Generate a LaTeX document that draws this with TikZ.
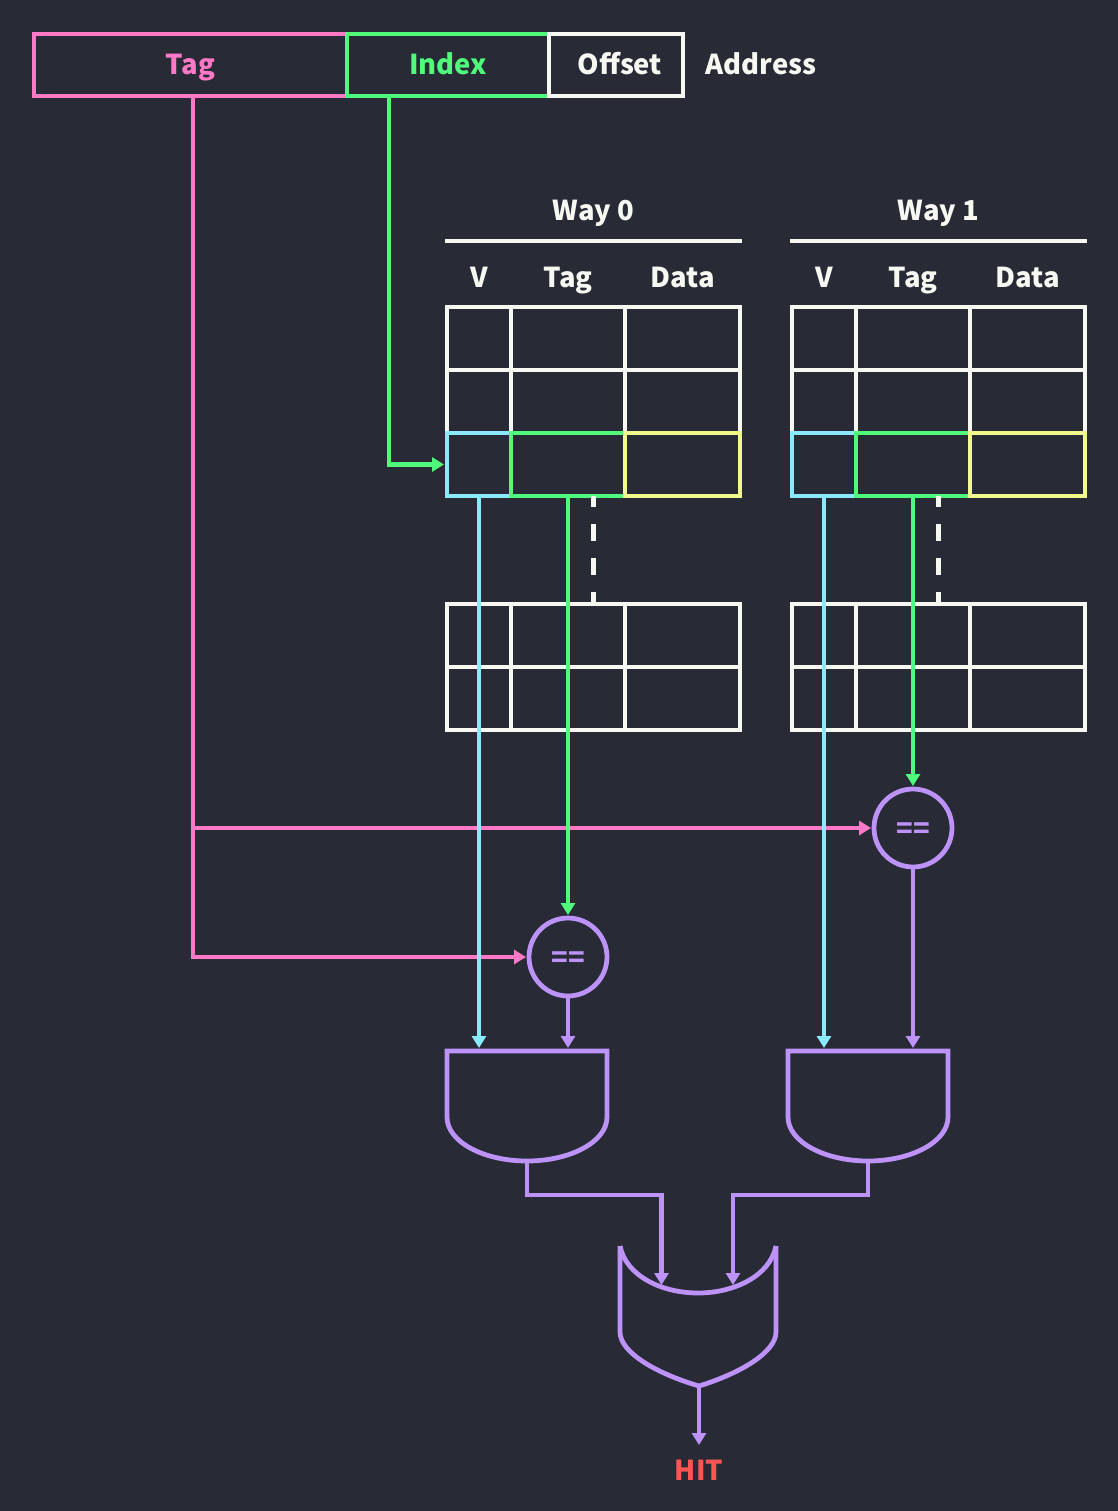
\documentclass[tikz,border=0pt]{standalone}
\usepackage{xcolor}
\usepackage{fontspec}
\setmainfont{Noto Sans CJK SC}
\usetikzlibrary{arrows.meta}

\definecolor{bgdark}{HTML}{282A36}
\definecolor{chalk}{HTML}{F8F8F2}
\definecolor{hotpink}{HTML}{FF79C6}
\definecolor{mint}{HTML}{50FA7B}
\definecolor{skyblue}{HTML}{8BE9FD}
\definecolor{lemon}{HTML}{F1FA8C}
\definecolor{lilac}{HTML}{BD93F9}
\definecolor{alarm}{HTML}{FF5555}

\tikzset{
  lbl/.style={inner sep=0pt, outer sep=0pt, text height=0.4cm, text depth=0pt, font=\fontsize{15.6}{20}\selectfont\bfseries},
  fieldbox/.style={lbl, draw, line width=0.095cm, minimum height=1.24cm},
  cellbox/.style={draw, line width=0.095cm, inner sep=0pt, outer sep=0pt, minimum height=1.26cm},
  cmpbox/.style={lbl, circle, draw=lilac, line width=0.095cm, minimum size=1.56cm, text=lilac},
  gate/.style={draw=lilac, line width=0.095cm},
  wire/.style={line width=0.09cm, -{Triangle[length=0.24cm,width=0.28cm]}, shorten >=0.06cm}
}

\begin{document}
\begin{tikzpicture}[x=0.02cm,y=-0.02cm]
  \useasboundingbox (0,0) rectangle (1118,1511);
  \fill[bgdark] (0,0) rectangle (1118,1511);

  % Address fields
  \node[fieldbox, draw=hotpink, text=hotpink, minimum width=6.26cm] (tagfield) at (190.5,65) {Tag};
  \node[fieldbox, draw=mint, text=mint, minimum width=4.04cm] (indexfield) at (448,65) {Index};
  \node[fieldbox, draw=chalk, text=chalk, minimum width=2.68cm] (offsetfield) at (616,65) {\hspace{0.16cm}Offset};
  \node[lbl, text=chalk] (addrlabel) at (761,65) {Address};

  % The two ways
  \foreach \way/\ox in {0/0,1/345} {
    \node[lbl, text=chalk] (way\way) at (593.5+\ox,210.5) {Way \way};
    \coordinate (ruleL\way) at (445+\ox,241);
    \coordinate (ruleR\way) at (742+\ox,241);
    \draw[chalk, line width=0.09cm] (ruleL\way) -- (ruleR\way);
    \node[lbl, text=chalk] (headV\way) at (479+\ox,277.5) {V};
    \node[lbl, text=chalk] (headTag\way) at (568+\ox,277.5) {Tag};
    \node[lbl, text=chalk] (headData\way) at (682.5+\ox,277.5) {Data};
    \foreach \col/\cx/\cw in {v/479/64,tag/568/114,data/682.5/115} {
      \foreach \row/\cy in {0/338.5,1/401.5,3/635.5,4/698.5}
        \node[cellbox, draw=chalk, minimum width=\cw*0.02cm] (\col-\row-\way) at (\cx+\ox,\cy) {};
    }
    % Selected set
    \foreach \col/\cx/\cw/\cc in {v/479/64/skyblue,tag/568/114/mint,data/682.5/115/lemon}
      \node[cellbox, draw=\cc, minimum width=\cw*0.02cm] (\col-2-\way) at (\cx+\ox,464.5) {};
    \draw[chalk, line width=0.09cm, dash pattern=on 0.34cm off 0.34cm, dash phase=0.12cm]
      (way\way |- tag-2-\way.south) -- (way\way |- tag-3-\way.north);
  }

  % Comparators
  \node[cmpbox] (cmp0) at (568,957) {==};
  \node[cmpbox] (cmp1) at (913,828) {==};

  % AND gates
  \foreach \n/\ox in {0/0,1/341} {
    \coordinate (and\n) at (527+\ox,1051);
    \coordinate (and\n-out) at (527+\ox,1161);
    \draw[gate] (447+\ox,1051) -- (607+\ox,1051) -- (607+\ox,1117)
      .. controls (607+\ox,1142) and (570+\ox,1161) .. (and\n-out)
      .. controls (484+\ox,1161) and (447+\ox,1142) .. (447+\ox,1117) -- cycle;
  }

  % OR gate
  \draw[gate] (620,1246) -- (620,1332) .. controls (620,1352) and (655,1373) .. (699,1386)
    .. controls (741,1373) and (776,1352) .. (776,1332) -- (776,1246);
  \draw[gate] (620,1246) .. controls (626,1276) and (662,1293) .. (698,1293)
    .. controls (734,1293) and (770,1276) .. (776,1246);
  \coordinate (orin0) at (661.5,1285);
  \coordinate (orin1) at (733,1285);
  \coordinate (orout) at (699,1386);
  \node[lbl, text=alarm] (hit) at (699,1470) {HIT};
  \coordinate (hitin) at (699,1445);

  % Tag and index lines
  \coordinate (tagtap) at (193,96);
  \coordinate (indextap) at (389,96);
  \draw[wire, hotpink] (tagtap) |- (cmp0.west);
  \draw[wire, hotpink] (tagtap |- cmp1.west) -- (cmp1.west);
  \draw[wire, mint] (indextap) |- (v-2-0.west);

  % Valid and tag lines out of the selected set
  \draw[wire, skyblue] (v-2-0.south) -- (v-2-0.south |- and0);
  \draw[wire, skyblue] (v-2-1.south) -- (v-2-1.south |- and1);
  \draw[wire, mint] (tag-2-0.south) -- (cmp0.north);
  \draw[wire, mint] (tag-2-1.south) -- (cmp1.north);

  % Hit logic
  \draw[wire, lilac] (cmp0.south) -- (cmp0.south |- and0);
  \draw[wire, lilac] (cmp1.south) -- (cmp1.south |- and1);
  \draw[wire, lilac, shorten >=0pt] (and0-out) -- ++(0,34) -| (orin0);
  \draw[wire, lilac, shorten >=0pt] (and1-out) -- ++(0,34) -| (orin1);
  \draw[wire, lilac, shorten >=0pt] (orout) -- (hitin);
\end{tikzpicture}
\end{document}
